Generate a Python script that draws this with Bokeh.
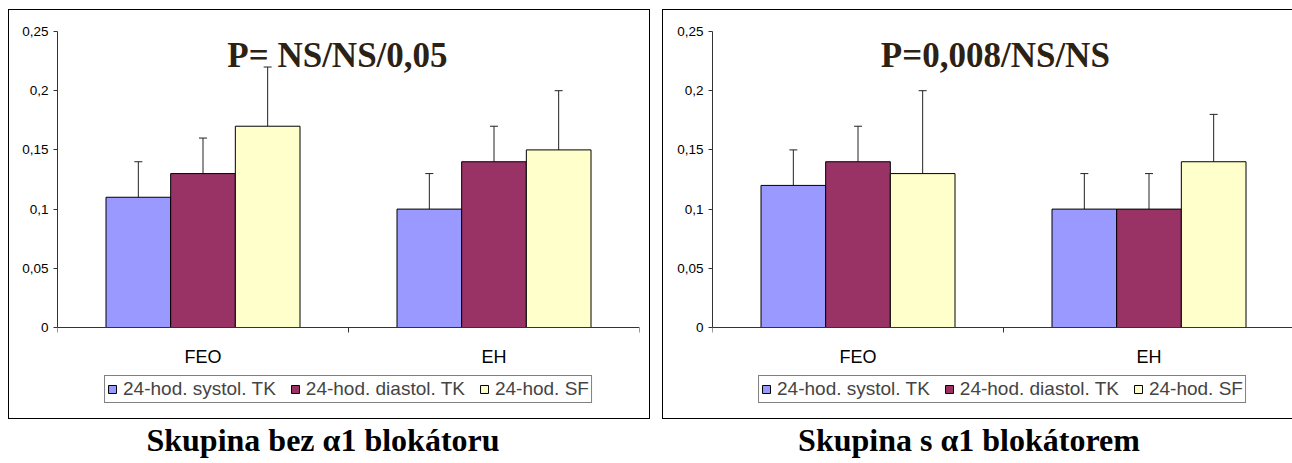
from bokeh.plotting import figure
from bokeh.models import (Range1d, FixedTicker, Legend, LegendItem, Label,
                          Whisker, TeeHead, ColumnDataSource, Div, Span, Spacer)
from bokeh.core.properties import value
from bokeh.layouts import row, column
from bokeh.embed import file_html
from bokeh.resources import INLINE

# ---------------- data ----------------
categories = ["FEO", "EH"]
series_names = ["24-hod. systol. TK", "24-hod. diastol. TK", "24-hod. SF"]
series_colors = ["#9999FF", "#993366", "#FFFFCC"]

left_title = "P= NS/NS/0,05"
left_subtitle = "Skupina bez \u03b11 blok\u00e1toru"
left_systol = [0.11, 0.10]
left_diastol = [0.13, 0.14]
left_sf = [0.17, 0.15]
left_systol_top = [0.14, 0.13]
left_diastol_top = [0.16, 0.17]
left_sf_top = [0.22, 0.20]

right_title = "P=0,008/NS/NS"
right_subtitle = "Skupina s \u03b11 blok\u00e1torem"
right_systol = [0.12, 0.10]
right_diastol = [0.14, 0.10]
right_sf = [0.13, 0.14]
right_systol_top = [0.15, 0.13]
right_diastol_top = [0.17, 0.13]
right_sf_top = [0.20, 0.18]

y_ticks = [0, 0.05, 0.1, 0.15, 0.2, 0.25]
y_tick_labels = ["0", "0,05", "0,1", "0,15", "0,2", "0,25"]

SANS = "Liberation Sans"
SERIF = "Liberation Serif"
AXIS_COL = "#333333"

# layout geometry (pixels)
FIG_H = 410
TOP_PAD = 22          # canvas top -> value 0.25
PLOT_H = 296          # 0.25 .. 0
BELOW_H = 78          # zero line -> bottom of frame (labels + legend)
CAT_W = 291.0         # pixels per category
PX_PER_UNIT = PLOT_H / 0.25
TITLE_Y = 0.2204 + 11 / PX_PER_UNIT


def make_panel(values, tops, title_text, width, left_border, right_border,
               title_x, shadow):
    frame_w = width - left_border - right_border
    x_end = frame_w / CAT_W
    y_start = -BELOW_H / PX_PER_UNIT
    p = figure(width=width, height=FIG_H, output_backend="svg",
               toolbar_location=None, x_axis_location=None,
               x_range=Range1d(0, x_end), y_range=Range1d(y_start, 0.25),
               min_border_left=left_border, min_border_right=right_border,
               min_border_top=TOP_PAD,
               min_border_bottom=FIG_H - TOP_PAD - PLOT_H - BELOW_H)
    p.border_fill_color = None
    p.background_fill_color = None
    p.outline_line_color = None
    p.grid.visible = False
    p.styles = {"box-shadow": shadow}

    # category axis: zero line, boundary ticks, category labels
    p.add_layout(Span(location=0, dimension="width", line_color=AXIS_COL,
                      line_width=1))
    bounds = list(range(len(categories) + 1))
    tick_len = 5 / PX_PER_UNIT
    p.segment(x0=bounds, y0=[0] * len(bounds), x1=bounds,
              y1=[-tick_len] * len(bounds), line_color=AXIS_COL, line_width=1)
    p.text(x=[i + 0.5 for i in range(len(categories))],
           y=[-19.5 / PX_PER_UNIT] * len(categories), text=categories,
           text_font=value(SANS), text_font_size="18px", text_color="black",
           text_align="center", text_baseline="top")

    bw = 2.0 / 9.0
    items = []
    for s, (vals, top) in enumerate(zip(values, tops)):
        xs = [i + 0.5 + (s - 1) * bw for i in range(len(categories))]
        src = ColumnDataSource(dict(x=xs, top=vals, err=top, cat=categories))
        r = p.vbar(x="x", top="top", bottom=0, width=bw, source=src,
                   fill_color=series_colors[s], line_color="black",
                   line_width=1)
        w = Whisker(base="x", lower="top", upper="err", source=src,
                    dimension="height", line_color="#222222", line_width=1,
                    upper_head=TeeHead(size=8, line_color="#222222",
                                       line_width=1),
                    lower_head=None)
        p.add_layout(w)
        items.append(LegendItem(label=series_names[s], renderers=[r]))

    ya = p.yaxis[0]
    ya.ticker = FixedTicker(ticks=y_ticks)
    ya.bounds = (0, 0.25)
    ya.major_label_overrides = {t: l for t, l in zip(y_ticks, y_tick_labels)}
    ya.minor_tick_line_color = None
    ya.major_tick_out = 4
    ya.major_tick_in = 0
    ya.major_tick_line_color = AXIS_COL
    ya.axis_line_color = AXIS_COL
    ya.major_label_text_font = SANS
    ya.major_label_text_font_size = "13.5px"
    ya.major_label_text_color = "black"
    ya.major_label_standoff = 5

    lg = Legend(items=items, orientation="horizontal", location="bottom_center",
                border_line_color="black", border_line_width=1,
                background_fill_color="white", background_fill_alpha=1,
                label_text_font=SANS, label_text_font_size="19px",
                glyph_width=10, glyph_height=10, label_standoff=6,
                spacing=14, padding=2, margin=2)
    p.add_layout(lg)

    p.add_layout(Label(x=title_x, y=TITLE_Y, text=title_text,
                       text_font=SERIF, text_font_style="bold",
                       text_font_size="35px", text_color="#2d2114",
                       text_align="center", text_baseline="alphabetic"))
    return p


p1 = make_panel([left_systol, left_diastol, left_sf],
                [left_systol_top, left_diastol_top, left_sf_top],
                left_title, 642, 49, 11, 0.962, "inset 0 0 0 1px #000")
p2 = make_panel([right_systol, right_diastol, right_sf],
                [right_systol_top, right_diastol_top, right_sf_top],
                right_title, 630, 50, 0, 0.972,
                "inset 1px 1px 0 0 #000, inset 0 -1px 0 0 #000")


def subtitle(text, width, pad_left, pad_right):
    return Div(text=text, width=width, height=40, margin=(0, 0, 0, 0),
               styles={"font-family": SERIF, "font-weight": "bold",
                       "font-size": "32px", "line-height": "34px",
                       "text-align": "center", "padding-top": "4px",
                       "padding-left": f"{pad_left}px",
                       "padding-right": f"{pad_right}px", "color": "black",
                       "box-sizing": "border-box"})


layout = row(Spacer(width=8),
             column(Spacer(height=9), p1, subtitle(left_subtitle, 642, 0, 12)),
             Spacer(width=12),
             column(Spacer(height=9), p2, subtitle(right_subtitle, 630, 0, 16)))

open("out.html", "w").write(file_html(layout, INLINE))
